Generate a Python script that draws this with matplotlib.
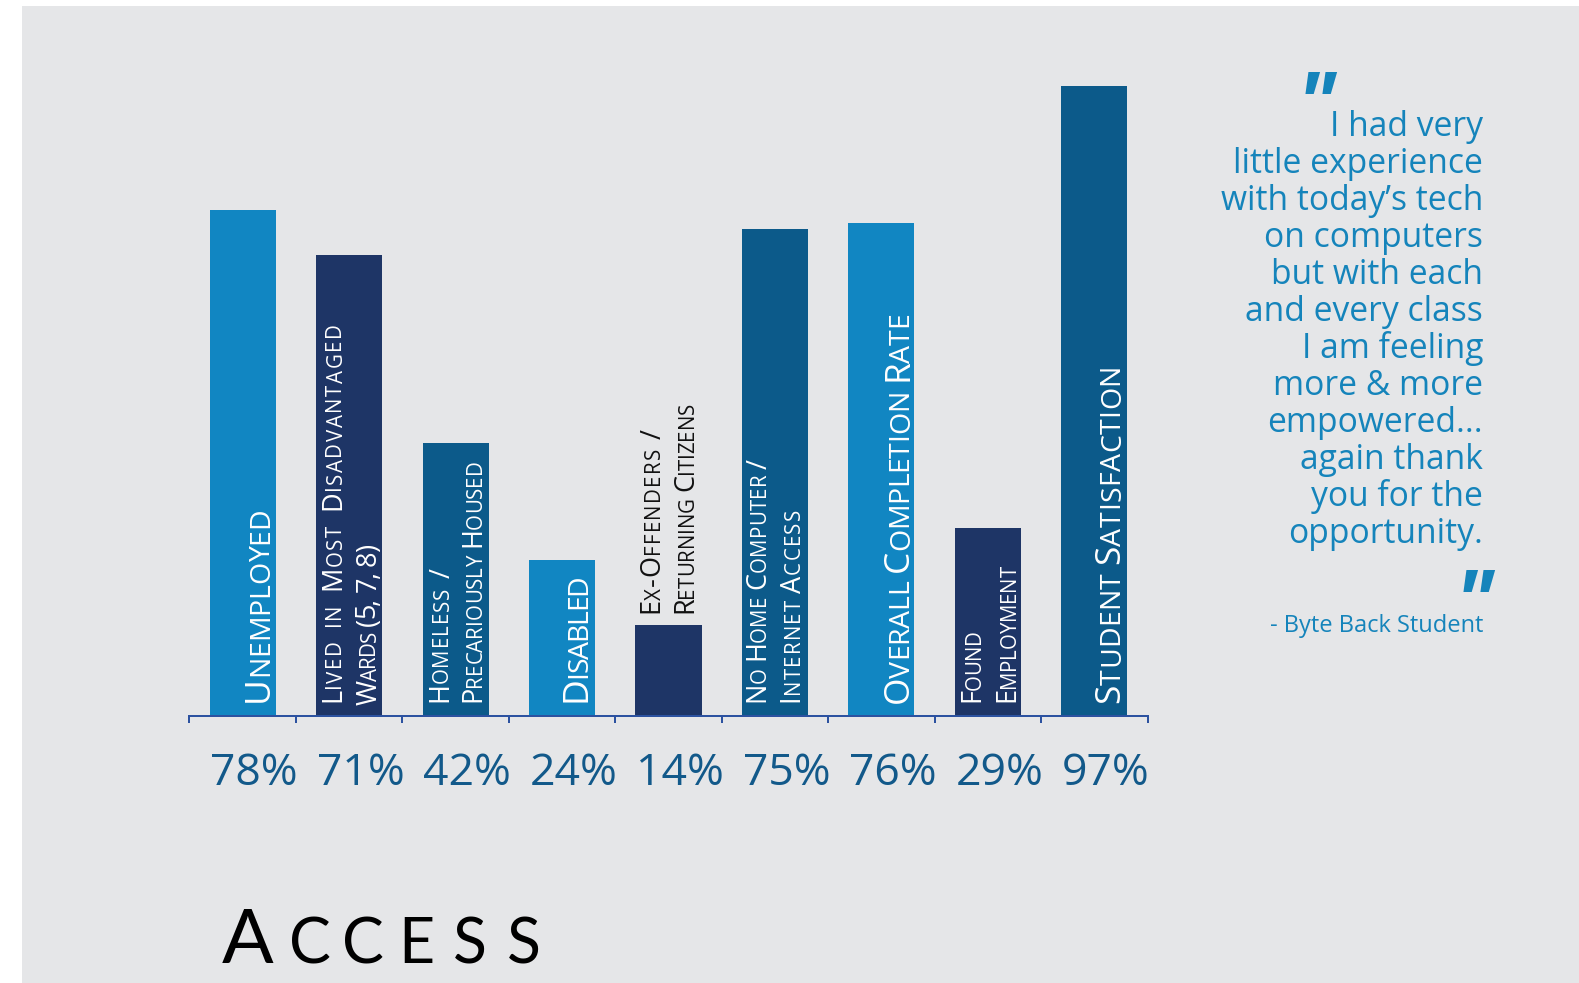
import matplotlib
matplotlib.use("Agg")
import matplotlib.pyplot as plt
from matplotlib.font_manager import FontProperties, findfont
from matplotlib.ft2font import FT2Font
from matplotlib.transforms import offset_copy
from matplotlib.patches import Rectangle

try:
    from matplotlib.ft2font import LoadFlags
    NOHINT = LoadFlags.NO_HINTING
except ImportError:  # older matplotlib
    from matplotlib.ft2font import LOAD_NO_HINTING as NOHINT

# ---------------- data ----------------
categories = [
    "Unemployed",
    "Lived in Most Disadvantaged\nWards (5, 7, 8)",
    "Homeless /\nPrecariously Housed",
    "Disabled",
    "Ex-Offenders /\nReturning Citizens",
    "No Home Computer /\nInternet Access",
    "Overall Completion Rate",
    "Found\nEmployment",
    "Student Satisfaction",
]
values = [78, 71, 42, 24, 14, 75, 76, 29, 97]
value_labels = ["78%", "71%", "42%", "24%", "14%", "75%", "76%", "29%", "97%"]
bar_colors = ["#1186c2", "#1e3566", "#0c5a8a", "#1186c2", "#1e3566",
              "#0c5a8a", "#1186c2", "#1e3566", "#0c5a8a"]
label_inside = [True, True, True, True, False, True, True, True, True]

quote_lines = [
    "I had very",
    "little experience",
    "with today\u2019s tech",
    "on computers",
    "but with each",
    "and every class",
    "I am feeling",
    "more & more",
    "empowered...",
    "again thank",
    "you for the",
    "opportunity.",
]
attribution = "- Byte Back Student"
title = "Access"

# ---------------- style ----------------
W, H, DPI = 1579, 983, 100
BG = "#e5e6e8"
AXIS_COL = "#2c52a0"
PCT_COL = "#12598a"
QUOTE_COL = "#1584bb"
FONT = "Open Sans"
PT = 72.0 / DPI  # points per pixel

# per-label line styling: (baseline offset px, tracking px, extra word gap px)
label_line_style = [
    [(28, 0.3, 0)],
    [(-6.5, 1.2, 6), (27.5, -1.2, 1)],
    [(-6.0, 0.6, 4), (27.5, -0.2, 0)],
    [(27, -1.0, 0)],
    [(-7.5, 0.9, 3), (26.5, -0.3, 0)],
    [(-7.5, 0.0, 0), (26.5, 1.0, 0)],
    [(29, 0.0, 0)],
    [(-5.5, -0.5, 0), (29, -0.5, 0)],
    [(27, 0.7, 0)],
]

fig = plt.figure(figsize=(W / DPI, H / DPI), dpi=DPI, facecolor="white")
fig.patches.append(Rectangle((22 / W, 0), 1 - 22 / W, (H - 6) / H,
                             transform=fig.transFigure, facecolor=BG,
                             edgecolor="none", zorder=-10))

ax_left, ax_right = 189.3, 1147.7
ax_base = 716.0
px_per_pct = 6.49
ax = fig.add_axes([ax_left / W, (H - ax_base) / H,
                   (ax_right - ax_left) / W, 100 * px_per_pct / H])
ax.set_facecolor("none")
ax.set_xlim(-0.5, len(values) - 0.5)
ax.set_ylim(0, 100)
for s in ["left", "right", "top"]:
    ax.spines[s].set_visible(False)
ax.spines["bottom"].set_color(AXIS_COL)
ax.spines["bottom"].set_linewidth(2 * PT)
ax.set_xticks([i - 0.5 for i in range(len(values) + 1)])
ax.set_xticklabels([])
ax.tick_params(axis="x", direction="out", length=7 * PT, width=2 * PT,
               color=AXIS_COL)
ax.set_yticks([])

xs = list(range(len(values)))
ax.bar(xs, values, width=0.62, color=bar_colors, zorder=2)

_ft = FT2Font(findfont(FontProperties(family=FONT)), hinting_factor=1)


def glyph_metrics(ch, size_pt):
    """Return (advance, left side bearing) in pixels."""
    _ft.set_size(size_pt, DPI)
    g = _ft.load_char(ord(ch), flags=NOHINT)
    return g.linearHoriAdvance / 65536.0, g.bbox[0] / 64.0


def draw_vertical_smallcaps(x, y, line, big, small, color, dx_px, dy_px,
                            tracking, word_extra):
    pos = dy_px
    for ch in line:
        if ch == " ":
            pos += glyph_metrics(" ", small)[0] + word_extra
            continue
        if ch.islower():
            sz, c = small, ch.upper()
        else:
            sz, c = big, ch
        adv, lsb = glyph_metrics(c, sz)
        # rotated glyph bitmaps start at the anchor; shift by the side bearing
        tr = offset_copy(ax.transData, fig=fig, x=(dx_px - lsb) * PT,
                         y=(pos + lsb) * PT, units="points")
        ax.text(x, y, c, rotation=90, rotation_mode="anchor", ha="left",
                va="baseline", transform=tr, fontsize=sz, family=FONT,
                color=color, zorder=3)
        pos += adv + tracking


for i, (cat, v) in enumerate(zip(categories, values)):
    lines = cat.split("\n")
    if len(lines) == 1:
        big, small = 25.5, 20.5
    else:
        big, small = 19.5, 14.8
    if label_inside[i]:
        y0, dy, col = 0, 11, "white"
    else:
        y0, dy, col = v, 9, "#111111"
    for ln, (off, trk, wx) in zip(lines, label_line_style[i]):
        draw_vertical_smallcaps(i, y0, ln, big, small, col, off, dy, trk, wx)

# percent labels under the axis
for i, lab in enumerate(value_labels):
    tr = offset_copy(ax.transData, fig=fig, x=2 * PT, y=-(785 - ax_base) * PT,
                     units="points")
    ax.text(i + 0.5, 0, lab, ha="right", va="baseline", transform=tr,
            fontsize=32, family=FONT, color=PCT_COL, clip_on=False)

# quote
qx = 1483
q_base0 = 136.0
q_step = 37.03
for k, ln in enumerate(quote_lines):
    fig.text(qx / W, 1 - (q_base0 + k * q_step) / H, ln, ha="right",
             va="baseline", fontsize=24.2, family=FONT, color=QUOTE_COL)
fig.text(1316 / W, 1 - 132.5 / H, '"', ha="center", va="baseline",
         fontsize=62, family=FONT, fontweight="bold", style="italic",
         color=QUOTE_COL)
fig.text(1474 / W, 1 - 630.5 / H, '"', ha="center", va="baseline",
         fontsize=62, family=FONT, fontweight="bold", style="italic",
         color=QUOTE_COL)
fig.text(qx / W, 1 - 631.7 / H, attribution, ha="right", va="baseline",
         fontsize=17, family=FONT, color=QUOTE_COL)

# title in small caps, letter-spaced
t_centers = [247.5] + [309.5 + 53.6 * k for k in range(len(title) - 1)]
for ch, cx in zip(title, t_centers):
    sz = 45 if ch.islower() else 55
    fig.text(cx / W, 1 - 963 / H, ch.upper(), ha="center", va="baseline",
             fontsize=sz, family="Lato", color="#000000")

fig.savefig("out.png", dpi=DPI, facecolor=fig.get_facecolor())
